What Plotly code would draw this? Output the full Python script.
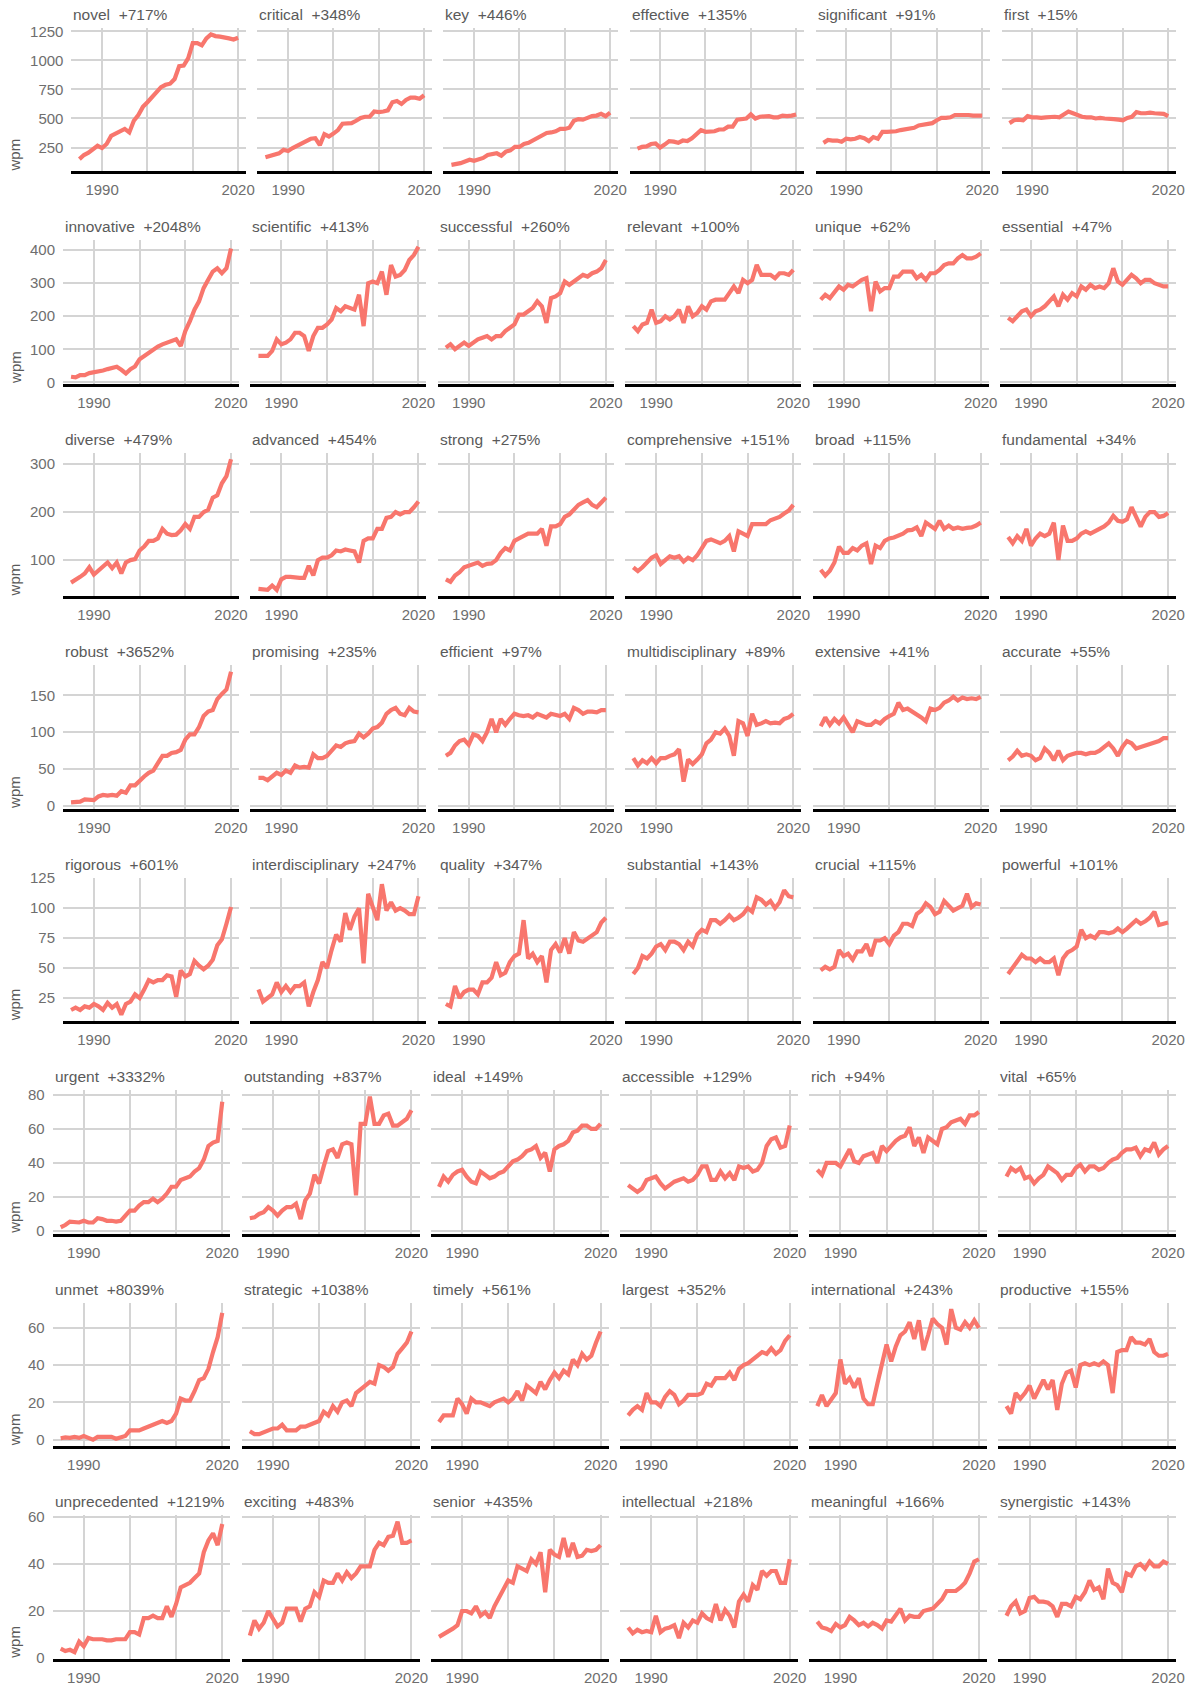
import plotly.graph_objects as go

years = list(range(1985, 2021))

# ---- row 1 ----
novel = [150,185,205,235,265,245,280,350,370,390,410,380,480,530,600,640,680,720,770,790,800,840,950,955,1020,1150,1150,1130,1190,1225,1210,1205,1200,1190,1180,1195]
critical = [165,175,185,200,230,220,245,265,285,300,325,330,270,365,345,370,400,455,455,460,480,505,515,515,560,555,560,570,640,650,625,660,680,680,670,700]
key = [100,105,115,130,145,135,150,160,185,190,200,180,215,225,255,255,280,290,310,335,360,375,380,390,410,410,420,480,495,490,505,520,525,540,520,550]
effective = [240,255,260,280,285,250,275,305,300,290,310,305,330,360,400,385,390,390,405,405,430,430,490,495,500,535,500,515,520,520,510,510,525,520,525,535]
significant = [290,315,310,310,300,325,320,325,340,330,305,340,325,385,385,385,390,400,405,410,420,440,445,450,460,485,505,505,510,530,530,535,530,525,525,525]
first = [460,485,490,485,520,510,510,505,510,515,515,510,540,560,545,530,515,510,510,500,505,500,500,495,490,485,505,515,555,545,545,550,545,540,540,520]
# ---- row 2 ----
innovative = [17,15,22,22,28,30,33,36,40,45,47,38,27,40,48,70,80,90,100,108,115,120,125,130,110,155,185,220,245,285,310,335,345,330,345,405]
scientific = [80,80,80,95,130,115,120,130,150,150,140,95,140,165,165,175,190,225,215,230,225,220,265,170,300,305,300,335,265,355,320,325,340,370,385,410]
successful = [105,115,100,110,120,110,120,130,135,140,130,140,140,155,165,175,205,205,215,225,245,230,180,255,260,270,305,295,305,315,325,320,330,335,345,370]
relevant = [170,155,175,180,220,180,185,200,190,200,220,180,230,200,210,230,220,245,250,250,250,270,290,270,310,300,310,355,325,325,325,315,330,330,325,340]
unique = [250,265,255,275,290,280,295,290,300,310,315,215,305,275,285,285,320,320,335,335,335,315,325,310,330,330,340,355,360,360,375,385,375,375,380,390]
essential = [195,185,200,215,220,200,215,220,230,245,260,230,265,250,270,260,290,280,295,285,290,285,300,345,305,295,310,325,315,300,310,310,300,295,290,290]
# ---- row 3 ----
diverse = [53,58,65,72,85,70,78,87,95,83,95,72,95,100,102,120,128,140,140,145,165,155,152,153,162,175,165,190,190,200,205,230,235,260,275,310]
advanced = [40,38,38,47,38,60,65,65,63,63,63,88,68,100,105,105,110,120,118,122,120,118,95,140,145,145,165,165,188,190,200,195,200,200,210,222]
strong = [60,55,68,75,85,88,90,95,88,92,93,100,115,125,120,140,145,150,155,155,155,165,130,170,170,175,190,195,205,215,220,225,215,210,220,230]
comprehensive = [85,77,85,95,105,110,92,100,108,105,108,97,105,100,110,125,140,143,138,135,140,150,118,160,155,150,175,175,175,175,183,187,190,197,203,215]
broad = [80,68,78,95,128,115,115,125,120,130,135,92,130,125,140,145,147,150,155,162,163,168,150,178,172,165,182,165,172,165,168,165,167,168,172,178]
fundamental = [148,135,150,140,165,130,145,155,150,155,178,100,172,140,140,145,155,160,155,160,165,170,178,192,182,180,185,210,190,170,190,200,200,190,192,198]
# ---- row 4 ----
robust = [5,5,6,9,8,8,13,15,14,15,14,20,18,28,28,35,40,45,48,58,68,68,72,73,76,90,97,97,107,122,128,130,145,152,158,182]
promising = [38,38,35,40,45,42,48,45,55,52,53,52,70,65,65,68,75,82,80,85,87,88,98,93,98,105,107,113,125,130,133,125,123,133,128,127]
efficient = [68,72,82,88,90,83,97,95,88,100,118,100,118,110,118,125,123,122,123,120,125,123,120,125,123,122,125,118,133,130,125,128,128,127,130,130]
multidisciplinary = [65,55,62,58,65,58,65,65,68,70,77,33,63,57,63,70,85,90,100,98,105,95,68,115,112,95,125,110,112,115,112,113,112,118,120,125]
extensive = [108,120,110,118,112,120,110,100,115,112,110,110,115,112,118,122,125,140,130,132,128,125,120,115,132,130,133,140,143,148,143,147,145,146,145,148]
accurate = [62,67,75,68,70,68,62,65,78,72,62,75,62,68,70,72,72,70,72,72,75,80,85,78,68,80,88,85,78,80,82,83,85,88,92,92]
# ---- row 5 ----
rigorous = [15,17,15,18,17,20,18,15,21,17,20,11,20,22,28,25,32,40,38,40,40,44,43,26,48,43,45,56,52,49,52,57,69,74,87,101]
interdisciplinary = [32,22,25,28,38,30,35,30,35,35,38,18,30,40,55,50,65,78,72,96,82,93,100,54,112,102,90,120,98,105,98,100,98,95,95,110]
quality = [20,18,35,25,30,32,32,28,38,38,42,55,44,46,55,60,62,90,58,62,55,60,38,65,70,63,75,62,80,73,72,75,78,80,88,92]
substantial = [45,50,60,58,62,68,70,65,72,72,70,65,72,68,78,82,80,90,90,87,90,94,90,92,95,100,97,109,107,103,106,100,105,115,110,109]
crucial = [48,51,49,51,65,60,62,57,64,64,70,60,73,73,75,70,77,80,87,87,85,95,98,104,101,95,97,106,102,98,100,102,112,101,104,103]
powerful = [45,50,55,61,58,58,55,58,55,55,58,44,58,63,65,68,82,75,77,75,80,80,79,80,83,80,83,86,90,87,89,92,97,86,87,88]
# ---- row 6 ----
urgent = [2.2,3.5,5.5,5,5,6,5,5,7.5,7,6,6,5.5,6,9,12,12,15,17,17,19,17,19,22,26,26,30,31,32,35,37,42,50,52,53,76]
outstanding = [7.5,8,10,11,14,12,9,12,14,14,16,7,18,22,33,28,38,47,48,43,51,52,51,21,63,63,79,63,63,68,69,62,62,64,66,71]
ideal = [26,32,29,33,35,36,32,29,28,35,33,31,32,34,35,38,41,42,44,47,48,50,43,46,35,48,50,51,53,58,59,62,62,60,60,63]
accessible = [27,25,23,25,30,31,32,28,25,27,29,30,31,29,30,33,38,38,30,30,35,31,34,30,38,37,38,35,36,40,50,54,55,49,50,62]
rich = [36,33,40,40,40,38,43,48,41,40,44,45,46,40,50,47,50,53,55,56,61,50,55,46,55,53,51,60,61,64,65,66,63,68,68,70]
vital = [32,37,35,37,31,32,28,31,33,38,36,34,30,33,33,37,39,35,38,38,36,37,40,42,43,46,48,48,49,44,48,47,52,45,48,50]
# ---- row 7 ----
unmet = [0.8,1.2,1,1.5,1,2,1,0,1.5,1.5,1.5,1.5,0.5,1,2,5,5,5,6,7,8,9,10,9,10,14,22,21,21,26,32,33,38,47,55,68]
strategic = [4.5,3,3,4,5,6,6,8,5,5,5,7,7,8,9,10,15,13,18,15,20,21,18,25,27,29,31,30,40,39,37,39,46,49,52,58]
timely = [9.5,13,13,13,22,19,14,22,20,20,19,18,20,21,22,20,22,26,21,29,27,25,31,27,32,36,33,37,35,43,40,46,43,45,52,58]
largest = [13,16,18,16,25,20,20,18,23,26,24,19,21,24,24,24,25,30,29,33,33,33,36,32,38,40,41,43,45,47,46,49,46,48,53,56]
international = [18,24,18,22,25,43,30,33,28,33,22,19,19,30,40,51,42,50,56,58,63,54,64,48,56,65,62,60,51,70,60,59,63,60,64,60]
productive = [18,14,25,22,25,29,22,27,32,27,32,16,30,36,37,28,40,41,40,41,40,42,40,25,47,48,48,55,52,52,51,54,47,45,45,46]
# ---- row 8 ----
unprecedented = [4,3,3.5,2.5,7,5,8.5,8,8,8,7.5,7.5,8,8,8,11,11,10,17,17,18,17,17,22,17.5,23,30,31,32,34,36,45,50,53,48,57]
exciting = [9.5,16,12.5,15,20,17,13.5,15,21,21,21,15.5,21,22,28,26,33,32,32,36,33,36.5,34,36,39,39,39,46,49,48,51.5,52,58,49,49,50]
senior = [9,10,11,12.5,14,20,20,19,22,18,19.5,17,22,26,29,33,32,39,38,37,42,40,45,28,46,44,43,51,43,49,43,43.5,46,45.5,46,48]
intellectual = [13,10.5,12,11,11.5,11,18,11,12.5,13,14,8.5,15,13,16,15,19,17,16,23,16,20.5,18,13,24,27,24,31,29,37,35,37,37,32,32,42]
meaningful = [15.5,13,12.5,11.5,14.5,13,14,17.5,16,14,15,13.5,15,14,12.5,16,15.5,18,21,16,18,17.5,17.5,20,20.5,21,23,25,28.5,28.5,28.5,30,32,36,41,42]
synergistic = [18,22,24,19,20,25.5,26,24,24,23.5,22,17.5,23,23,22,26,25,28,33,29,30,25,38,32,31,28,36,35,39,40,38,41,39,39,41,40]

rows = [
    [("novel", "+717%", novel), ("critical", "+348%", critical), ("key", "+446%", key),
     ("effective", "+135%", effective), ("significant", "+91%", significant), ("first", "+15%", first)],
    [("innovative", "+2048%", innovative), ("scientific", "+413%", scientific), ("successful", "+260%", successful),
     ("relevant", "+100%", relevant), ("unique", "+62%", unique), ("essential", "+47%", essential)],
    [("diverse", "+479%", diverse), ("advanced", "+454%", advanced), ("strong", "+275%", strong),
     ("comprehensive", "+151%", comprehensive), ("broad", "+115%", broad), ("fundamental", "+34%", fundamental)],
    [("robust", "+3652%", robust), ("promising", "+235%", promising), ("efficient", "+97%", efficient),
     ("multidisciplinary", "+89%", multidisciplinary), ("extensive", "+41%", extensive), ("accurate", "+55%", accurate)],
    [("rigorous", "+601%", rigorous), ("interdisciplinary", "+247%", interdisciplinary), ("quality", "+347%", quality),
     ("substantial", "+143%", substantial), ("crucial", "+115%", crucial), ("powerful", "+101%", powerful)],
    [("urgent", "+3332%", urgent), ("outstanding", "+837%", outstanding), ("ideal", "+149%", ideal),
     ("accessible", "+129%", accessible), ("rich", "+94%", rich), ("vital", "+65%", vital)],
    [("unmet", "+8039%", unmet), ("strategic", "+1038%", strategic), ("timely", "+561%", timely),
     ("largest", "+352%", largest), ("international", "+243%", international), ("productive", "+155%", productive)],
    [("unprecedented", "+1219%", unprecedented), ("exciting", "+483%", exciting), ("senior", "+435%", senior),
     ("intellectual", "+218%", intellectual), ("meaningful", "+166%", meaningful), ("synergistic", "+143%", synergistic)],
]
row_dtick = [250, 100, 100, 50, 25, 20, 20, 20]
x_tickvals = [1990, 2000, 2010, 2020]
x_ticktext = ["1990", "", "", "2020"]

# ---- layout geometry (pixels) ----
W, H = 1203, 1688
row_left = [72, 63.5, 63.5, 63.5, 63.5, 53, 53, 53]
R = 1185
GAP = 11.5
TOP0, PITCH, PH = 20, 214.5, 145

FONT = "Liberation Sans, Arial, sans-serif"
LINE_COLOR = "#F8766D"
GRID = "#d4d4d4"
TXT = "#6e6e6e"
TITLE_TXT = "#5a5a5a"

fig = go.Figure()
layout = {}
annotations = []
xr = [min(years) - 0.05 * (max(years) - min(years)), max(years) + 0.05 * (max(years) - min(years))]

for r, row in enumerate(rows):
    allv = [v for _, _, s in row for v in s]
    lo, hi = min(allv), max(allv)
    pad = 0.05 * (hi - lo)
    yr = [lo - pad, hi + pad]
    L = row_left[r]
    w = (R - L - 5 * GAP) / 6
    top = TOP0 + r * PITCH
    bot = top + PH
    for c, (word, pct, vals) in enumerate(row):
        i = r * 6 + c + 1
        sfx = "" if i == 1 else str(i)
        x0 = L + c * (w + GAP)
        fig.add_trace(go.Scatter(
            x=years, y=vals, mode="lines",
            line=dict(color=LINE_COLOR, width=4.2),
            xaxis="x" + sfx, yaxis="y" + sfx, showlegend=False,
            hoverinfo="x+y"))
        layout["xaxis" + sfx] = dict(
            domain=[x0 / W, (x0 + w) / W], anchor="y" + sfx, range=xr,
            tickmode="array", tickvals=x_tickvals, ticktext=x_ticktext,
            showgrid=True, gridcolor=GRID, gridwidth=1.5, zeroline=False,
            showline=True, linecolor="black", linewidth=2.6,
            ticks="outside", ticklen=3, tickcolor="rgba(0,0,0,0)",
            tickfont=dict(family=FONT, size=15, color=TXT))
        layout["yaxis" + sfx] = dict(
            domain=[1 - bot / H, 1 - top / H], anchor="x" + sfx, range=yr,
            tickmode="linear", tick0=0, dtick=row_dtick[r],
            showticklabels=(c == 0), showgrid=True, gridcolor=GRID, gridwidth=1.5,
            zeroline=False, showline=False,
            ticks="outside" if c == 0 else "", ticklen=4, tickcolor="rgba(0,0,0,0)",
            tickfont=dict(family=FONT, size=15, color=TXT))
        annotations.append(dict(
            text=word + "\u00a0 " + pct, x=x0 / W, y=1 - (top - 3) / H,
            xref="paper", yref="paper", xanchor="left", yanchor="bottom",
            showarrow=False, font=dict(family=FONT, size=15.5, color=TITLE_TXT)))
    annotations.append(dict(
        text="wpm", x=15 / W, y=1 - (bot - 17) / H, xref="paper", yref="paper",
        xanchor="center", yanchor="middle", textangle=-90, showarrow=False,
        font=dict(family=FONT, size=15, color=TITLE_TXT)))

fig.update_layout(
    width=W, height=H, margin=dict(l=0, r=0, t=0, b=0),
    paper_bgcolor="white", plot_bgcolor="white",
    annotations=annotations, **layout)

fig.write_html("out.html", config={"displayModeBar": False},
               post_script="document.body.style.margin='0';document.body.style.overflow='hidden';")
